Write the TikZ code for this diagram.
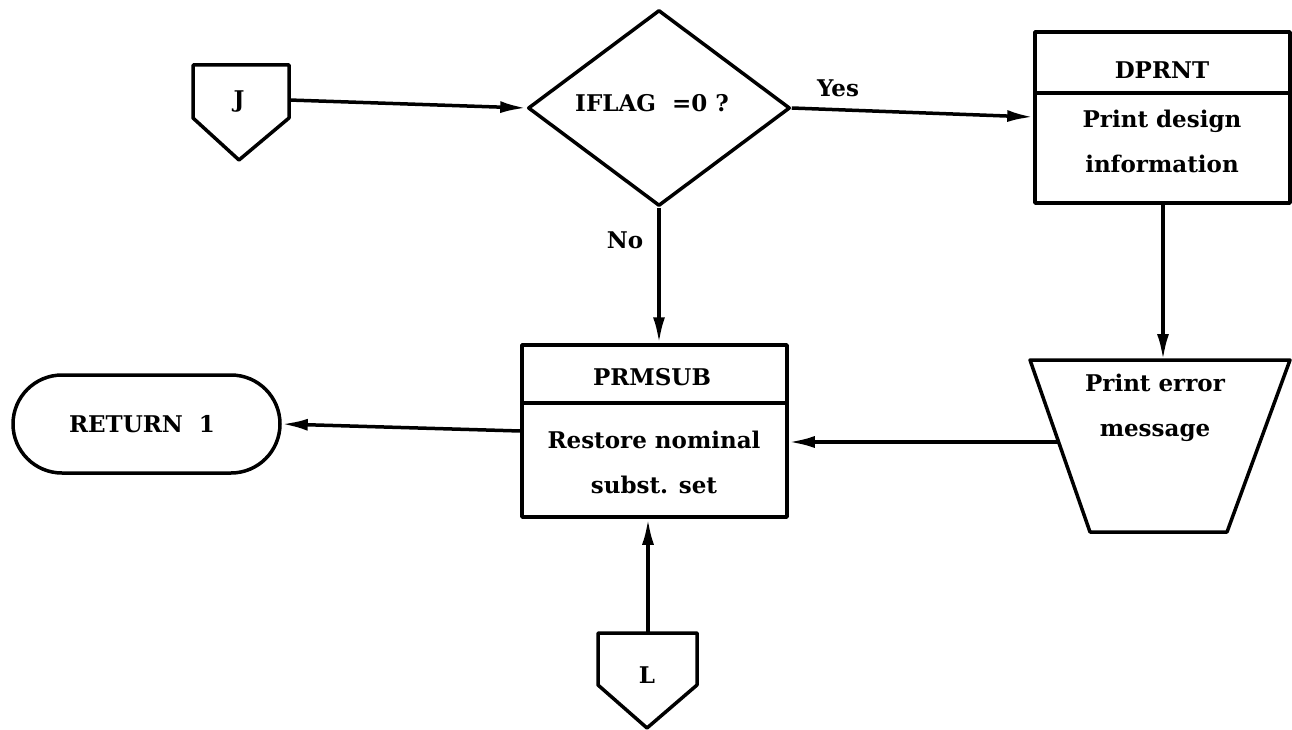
\documentclass[tikz,border=0pt]{standalone}
\usepackage{fontspec}
\setmainfont{DejaVu Serif}
\usetikzlibrary{arrows.meta,shapes.geometric}
\begin{document}
\begin{tikzpicture}[x=1pt,y=-1pt,
  line width=3.5pt, line join=round,
  txt/.style={font=\fontsize{23}{45}\selectfont\bfseries, inner sep=0pt, align=center},
  flow/.style={-{Latex[length=26pt,width=12pt]}},
  shp/.style={draw, line width=3.5pt}]
\useasboundingbox (0,0) rectangle (1292,730);
% J connector
\draw[shp] (193,65) -- (289,65) -- (289,118) -- (239,160) -- (193,118) -- cycle;
\node[txt] (jlab) at (239,102) {J};
\coordinate (jout) at (289,100);
% decision
\node[shp, diamond, minimum width=262pt, minimum height=196pt, inner sep=0pt] (dia) at (659,108) {};
\node[txt] (dlab) at (652,103) {IFLAG\ \ =0 ?};
% DPRNT box
\node[shp, minimum width=255pt, minimum height=171pt, inner sep=0pt] (dp) at (1162.5,117.5) {};
\draw[shp] (dp.west |- 0,93) -- (dp.east |- 0,93);
\node[txt] (dpt) at (1162,70) {DPRNT};
\node[txt] (dpb) at (1162,141) {Print design\\information};
% trapezoid
\coordinate (tTL) at (1030,360);
\coordinate (tTR) at (1290,360);
\coordinate (tBR) at (1227,532);
\coordinate (tBL) at (1090,532);
\draw[shp] (tTL) -- (tTR) -- (tBR) -- (tBL) -- cycle;
\coordinate (tin) at (1163,360);
\coordinate (tout) at (1058,442);
\node[txt] (tlab) at (1155,408) {Print error\\message};
% PRMSUB box
\node[shp, minimum width=265pt, minimum height=172pt, inner sep=0pt] (prm) at (654.5,431) {};
\draw[shp] (prm.west |- 0,403) -- (prm.east |- 0,403);
\node[txt] (prt) at (652,377) {PRMSUB};
\node[txt] (prb) at (654,462) {Restore nominal\\subst. set};
% RETURN
\node[shp, rounded corners=49pt, minimum width=267pt, minimum height=98pt, inner sep=0pt] (ret) at (146.5,424) {};
\node[txt] (rlab) at (142,424) {RETURN\ \ 1};
% L connector
\draw[shp] (598,633) -- (697,633) -- (697,685) -- (647,728) -- (598,685) -- cycle;
\node[txt] (llab) at (647,675) {L};
\coordinate (lout) at (648,633);
% connectors
\draw[flow] (jout) -- (dia.west);
\draw[flow] (dia.east) -- (dp.west |- 0,117);
\node[txt] (yes) at (838,88) {Yes};
\draw[flow] (dia.south) -- (dia.south |- prm.north);
\node[txt] (no) at (625,240) {No};
\draw[flow] (dp.south -| tin) -- (tin);
\draw[flow] (tout) -- (prm.east |- tout);
\draw[flow] (prm.west) -- (ret.east);
\draw[flow] (lout) -- (lout |- prm.south);
\end{tikzpicture}
\end{document}
